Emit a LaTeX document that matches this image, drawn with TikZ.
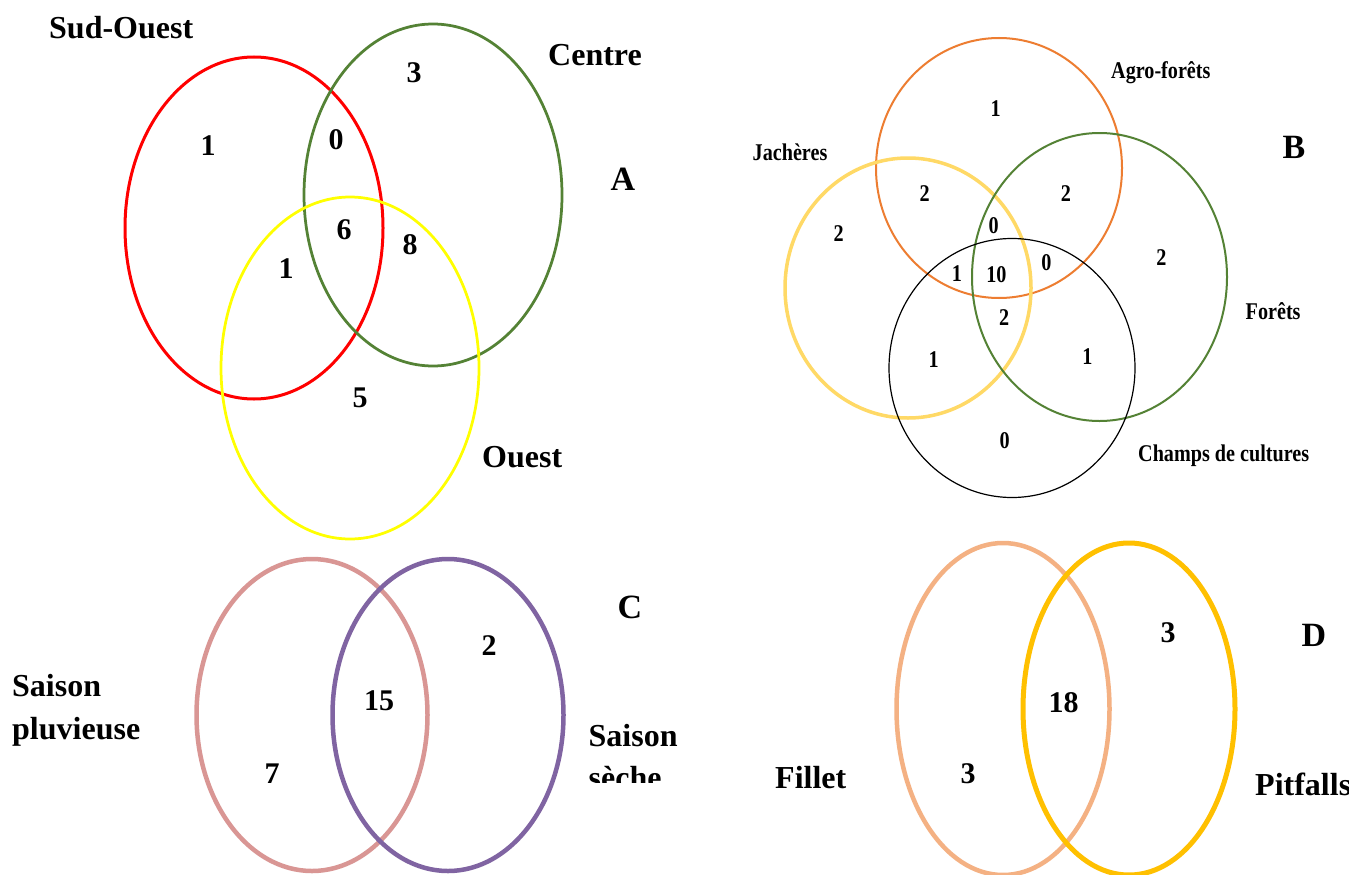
\documentclass[tikz,border=0pt]{standalone}
\usepackage{fontspec}
\usepackage{graphicx}
\setmainfont{Liberation Serif}
\definecolor{aRed}{HTML}{FF0000}
\definecolor{aGreen}{HTML}{548235}
\definecolor{aYellow}{HTML}{FFFF00}
\definecolor{bOrange}{HTML}{ED7D31}
\definecolor{bYellow}{HTML}{FFD966}
\definecolor{bGreen}{HTML}{548235}
\definecolor{cPink}{HTML}{D99694}
\definecolor{cPurple}{HTML}{8064A2}
\definecolor{dPeach}{HTML}{F4B183}
\definecolor{dGold}{HTML}{FFC000}
\tikzset{
  lbl/.style={inner sep=0pt, anchor=base west, font=\fontsize{32}{38}\selectfont\bfseries},
  num/.style={inner sep=0pt, font=\fontsize{30}{36}\selectfont\bfseries},
  pan/.style={inner sep=0pt, font=\fontsize{34}{40}\selectfont\bfseries},
  blbl/.style={inner sep=0pt, anchor=base west, font=\fontsize{24}{28}\selectfont\bfseries},
  bnum/.style={inner sep=0pt, font=\fontsize{24}{28}\selectfont\bfseries},
}
\newcommand{\bsq}[1]{\scalebox{0.84}[1]{#1}}
\begin{document}
\begin{tikzpicture}[x=1pt,y=-1pt]
\useasboundingbox[fill=white] (0,0) rectangle (1349,875);
% ---------------- Panel A ----------------
\draw[aRed, line width=3pt] (254,228) ellipse [x radius=129pt, y radius=171pt];
\draw[aGreen, line width=2.75pt] (433,195) ellipse [x radius=129pt, y radius=171pt];
\draw[aYellow, line width=2.75pt] (350,368) ellipse [x radius=129pt, y radius=171pt];
\node[lbl] (aSO) at (49,38.4) {Sud-Ouest};
\node[lbl] (aCe) at (548,65.4) {Centre};
\node[lbl] (aOu) at (482,467.3) {Ouest};
\node[pan] (aA) at (623,179) {A};
\node[num] (a1) at (414,73) {3};
\node[num] (a2) at (208,146) {1};
\node[num] (a3) at (336,140) {0};
\node[num] (a4) at (344,230) {6};
\node[num] (a5) at (410,245) {8};
\node[num] (a6) at (286,269) {1};
\node[num] (a7) at (360,398) {5};
% ---------------- Panel B ----------------
\draw[bOrange, line width=2pt] (999,168) ellipse [x radius=123pt, y radius=130pt];
\draw[bYellow, line width=3.5pt] (908,288) ellipse [x radius=123pt, y radius=130pt];
\draw[bGreen, line width=2pt] (1099.5,277) ellipse [x radius=127.5pt, y radius=144pt];
\draw[black, line width=1.2pt] (1012,368) ellipse [x radius=123pt, y radius=129.5pt];
\node[blbl] (bAg) at (1111,78) {\bsq{Agro-forêts}};
\node[blbl] (bJa) at (752.5,160.8) {\bsq{Jachères}};
\node[blbl] (bFo) at (1245.5,319.3) {\bsq{Forêts}};
\node[blbl] (bCh) at (1138,461) {\bsq{Champs de cultures}};
\node[pan] (bB) at (1294,147) {B};
\node[bnum] (b1) at (995.7,108.5) {\bsq{1}};
\node[bnum] (b2) at (924.6,194) {\bsq{2}};
\node[bnum] (b3) at (1066,194) {\bsq{2}};
\node[bnum] (b4) at (838.7,233.4) {\bsq{2}};
\node[bnum] (b5) at (993.7,225.2) {\bsq{0}};
\node[bnum] (b6) at (957,273.2) {\bsq{1}};
\node[bnum] (b7) at (996.4,274.4) {\bsq{10}};
\node[bnum] (b8) at (1046.4,262.3) {\bsq{0}};
\node[bnum] (b9) at (1161.5,257.6) {\bsq{2}};
\node[bnum] (b10) at (1004.2,318) {\bsq{2}};
\node[bnum] (b11) at (933.6,360) {\bsq{1}};
\node[bnum] (b12) at (1087.4,357) {\bsq{1}};
\node[bnum] (b13) at (1004.6,441) {\bsq{0}};
% ---------------- Panel C ----------------
\draw[cPink, line width=4.5pt] (312,715) ellipse [x radius=115.5pt, y radius=156pt];
\draw[cPurple, line width=4.5pt] (448,715) ellipse [x radius=115.5pt, y radius=156pt];
\node[lbl] (cSP1) at (12,696) {Saison};
\node[lbl] (cSP2) at (12,739) {pluvieuse};
\node[lbl] (cSS1) at (588.5,746.4) {Saison};
\begin{scope}
  \clip (580,750) rectangle (690,782);
  \node[lbl] (cSS2) at (588.5,788) {sèche};
\end{scope}
\node[pan] (cC) at (630,607) {C};
\node[num] (c1) at (489,646) {2};
\node[num] (c2) at (379,701) {15};
\node[num] (c3) at (272,774) {7};
% ---------------- Panel D ----------------
\draw[dPeach, line width=4.5pt] (1003,709) ellipse [x radius=106.5pt, y radius=166pt];
\draw[dGold, line width=5pt] (1129,709) ellipse [x radius=106pt, y radius=166pt];
\node[lbl] (dFi) at (775,788.7) {Fillet};
\node[lbl] (dPi) at (1255,795.7) {Pitfalls};
\node[pan] (dD) at (1314,635) {D};
\node[num] (d1) at (1168,633) {3};
\node[num] (d2) at (1063.5,703) {18};
\node[num] (d3) at (968,774) {3};
\end{tikzpicture}
\end{document}
